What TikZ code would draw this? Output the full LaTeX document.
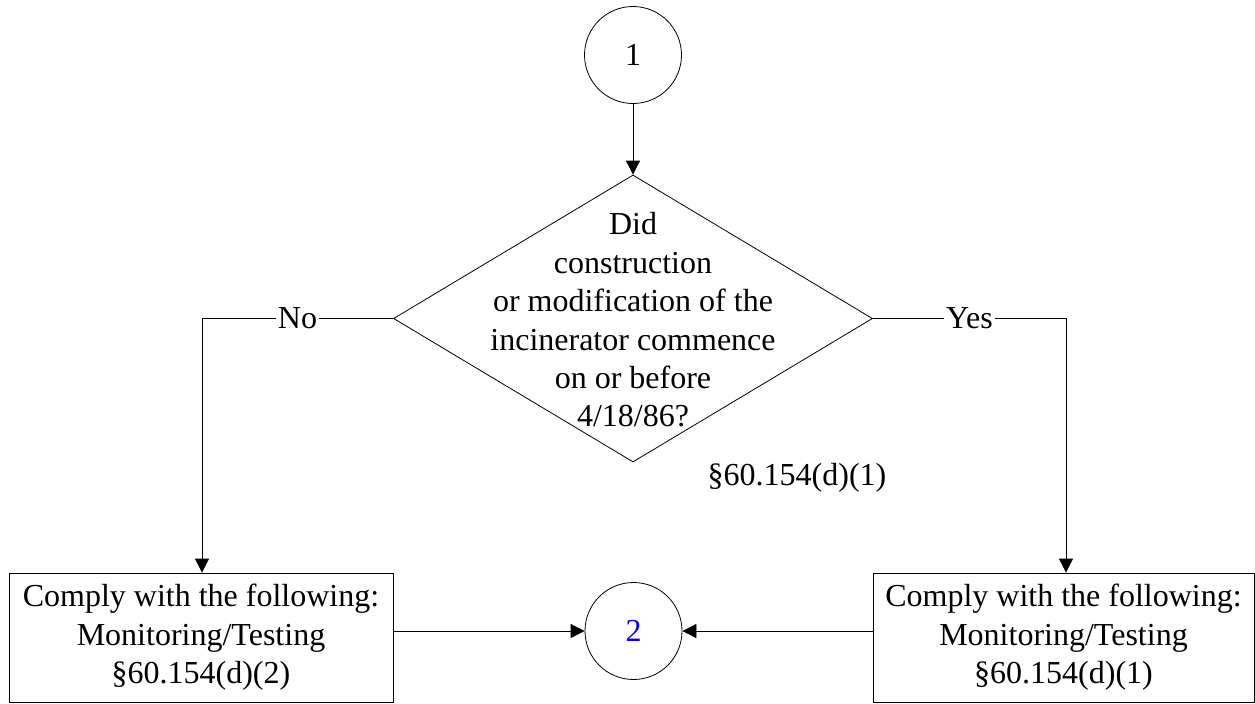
\documentclass[tikz,border=0pt]{standalone}
\usepackage{fontspec}
\setmainfont{Liberation Serif}
\usetikzlibrary{shapes.geometric,arrows.meta}

\tikzset{
	conn/.style={circle,draw,minimum size=48.5pt,inner sep=0pt},
	decision/.style={diamond,draw,minimum width=239.5pt,minimum height=143.5pt,inner sep=0pt},
	actbox/.style={rectangle,draw,minimum height=64.5pt,inner sep=0pt,align=center},
	flow/.style={-{Triangle[length=7pt,width=7pt]}},
}

\begin{document}
\begin{tikzpicture}[x=0.5pt,y=-0.5pt,font=\fontsize{16}{19.2}\selectfont]

	\useasboundingbox (0,0) rectangle (1255,703);
	
	\node[conn] (c1) at (633,55) {1};
	\node[decision] (dec) at (633,318.5) {};
	\node[align=center] (dectext) at (633,320) {Did\\construction\\or modification of the\\incinerator commence\\on or before\\4/18/86?};
	\node (ref) at (797,478) {§60.154(d)(1)};
	
	\node[actbox,minimum width=192pt] (lbox) at (201,637.5) {Comply with the following:\\Monitoring/Testing\\§60.154(d)(2)};
	\node[actbox,minimum width=190.5pt] (rbox) at (1063.5,637.5) {Comply with the following:\\Monitoring/Testing\\§60.154(d)(1)};
	\node[conn,text=blue] (c2) at (633.5,631) {2};
	
	\coordinate (lcorner) at (202,318.5);
	\coordinate (rcorner) at (1066,318.5);
	
	\draw[flow] (c1) -- (dec.north);
	\draw[flow] (dec.west) -- node[fill=white,inner sep=1pt] (no) {No} (lcorner) -- (lcorner |- lbox.north);
	\draw[flow] (dec.east) -- node[fill=white,inner sep=1pt,pos=0.5] (yes) {Yes} (rcorner) -- (rcorner |- rbox.north);
	\draw[flow] (lbox.east |- c2) -- (c2);
	\draw[flow] (rbox.west |- c2) -- (c2);
	
\end{tikzpicture}
\end{document}
